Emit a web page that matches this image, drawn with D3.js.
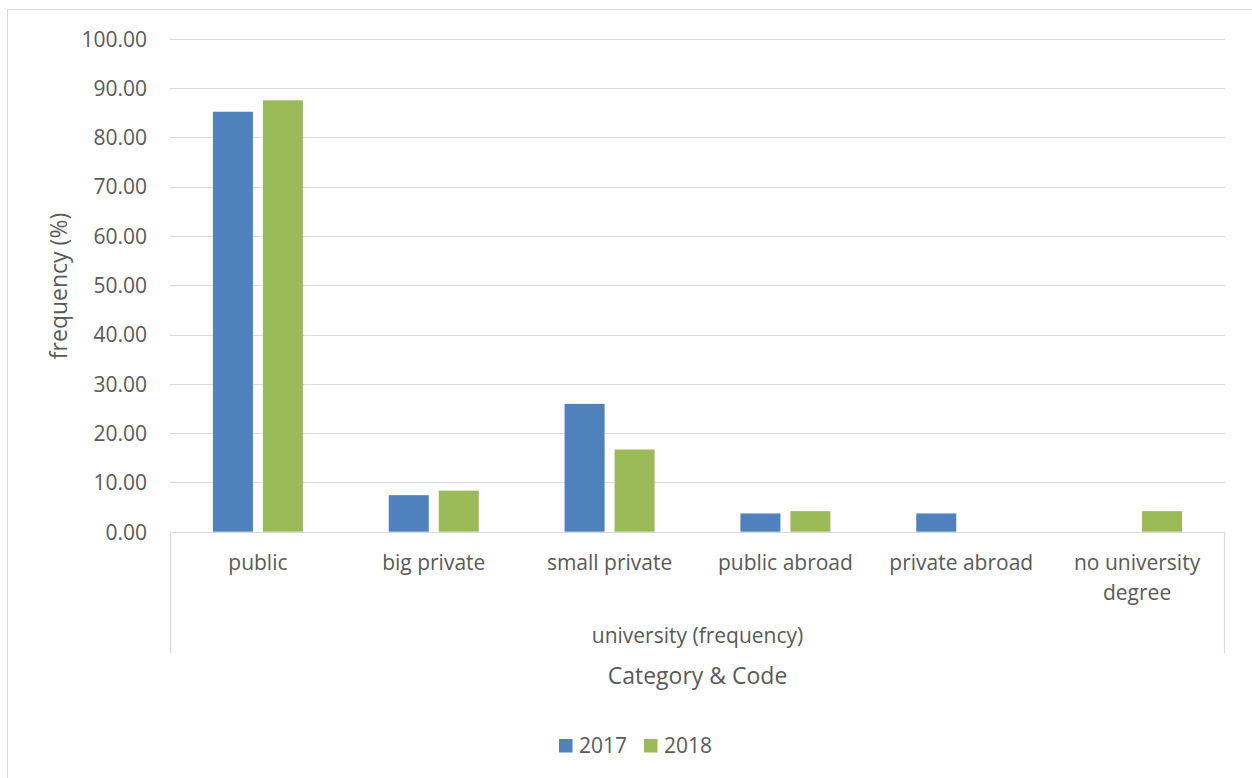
<!DOCTYPE html>
<html>
<head>
<meta charset="utf-8">
<script src="https://cdn.jsdelivr.net/npm/d3@7"></script>
<style>
  html, body { margin: 0; padding: 0; background: #fff; }
  svg { display: block; }
  text { font-family: "Open Sans", "Liberation Sans", sans-serif; fill: #595959; }
</style>
</head>
<body>
<svg id="chart" width="1252" height="778"></svg>
<script>
// University attended, share of respondents (%) per year
const categories = ["public", "big private", "small private", "public abroad", "private abroad", "no university degree"];
const series = ["2017", "2018"];
const values2017 = [85.19, 7.41, 25.93, 3.70, 3.70, 0];
const values2018 = [87.50, 8.33, 16.67, 4.17, 0, 4.17];
const yTicks = [0, 10, 20, 30, 40, 50, 60, 70, 80, 90, 100];
const colors = ["#4f81bd", "#9bbb59"];

const svg = d3.select("#chart");
const W = 1252, H = 778;
const plot = { left: 170, right: 1225, top: 38.7, bottom: 531.7 };

// outer chart border
svg.append("rect")
  .attr("x", 7.5).attr("y", 9.5)
  .attr("width", W).attr("height", H)
  .attr("fill", "none").attr("stroke", "#d9d9d9").attr("stroke-width", 1);

const y = d3.scaleLinear().domain([0, 100]).range([plot.bottom, plot.top]);
const x0 = d3.scaleBand().domain(categories).range([plot.left, plot.right]).paddingInner(0).paddingOuter(0);
const x1 = d3.scaleBand().domain(series).range([0, 90]).paddingInner(0.2);

// gridlines
svg.append("g").selectAll("line").data(yTicks).join("line")
  .attr("x1", plot.left).attr("x2", plot.right)
  .attr("y1", d => Math.round(y(d)) + 0.5).attr("y2", d => Math.round(y(d)) + 0.5)
  .attr("stroke", "#d9d9d9").attr("stroke-width", 1.2);

// y tick labels
const yAxis = d3.axisLeft(y).tickValues(yTicks).tickFormat(d3.format(".2f")).tickSize(0).tickPadding(0);
const gy = svg.append("g").attr("transform", `translate(147,0)`).call(yAxis);
gy.select(".domain").remove();
gy.selectAll("text").style("font-size", "21px").attr("fill", "#595959").attr("dy", "0.35em");

// bars
const data = categories.map((c, i) => ({ cat: c, vals: [values2017[i], values2018[i]] }));
const groups = svg.append("g").selectAll("g").data(data).join("g")
  .attr("transform", d => `translate(${x0(d.cat) + x0.bandwidth() / 2 - 45},0)`);
groups.selectAll("rect").data(d => d.vals.map((v, j) => ({ s: series[j], v, j }))).join("rect")
  .filter(d => d.v > 0)
  .attr("x", d => x1(d.s))
  .attr("width", x1.bandwidth())
  .attr("y", d => y(d.v))
  .attr("height", d => y(0) - y(d.v))
  .attr("fill", d => colors[d.j]);

// category axis box (multi-level)
const axisG = svg.append("g");
axisG.append("line").attr("x1", plot.left + 0.5).attr("x2", plot.left + 0.5)
  .attr("y1", plot.bottom).attr("y2", 653).attr("stroke", "#d9d9d9").attr("stroke-width", 1.2);
axisG.append("line").attr("x1", plot.right - 0.5).attr("x2", plot.right - 0.5)
  .attr("y1", plot.bottom).attr("y2", 653).attr("stroke", "#d9d9d9").attr("stroke-width", 1.2);

// category labels, wrapped where needed
const wrapped = { "no university degree": ["no university", "degree"] };
const catText = axisG.selectAll("text.cat").data(categories).join("text")
  .attr("class", "cat")
  .attr("text-anchor", "middle")
  .attr("x", d => x0(d) + x0.bandwidth() / 2)
  .attr("y", 570)
  .style("font-size", "21px");
catText.each(function (d) {
  const lines = wrapped[d] || [d];
  const t = d3.select(this);
  lines.forEach((ln, k) => {
    t.append("tspan").attr("x", x0(d) + x0.bandwidth() / 2).attr("dy", k === 0 ? 0 : 30).text(ln);
  });
});

// group label
axisG.append("text").attr("x", (plot.left + plot.right) / 2).attr("y", 643)
  .attr("text-anchor", "middle").style("font-size", "21px").text("university (frequency)");

// axis titles
svg.append("text").attr("x", (plot.left + plot.right) / 2).attr("y", 684)
  .attr("text-anchor", "middle").style("font-size", "23px").text("Category & Code");
svg.append("text")
  .attr("transform", `translate(67,286) rotate(-90)`)
  .attr("text-anchor", "middle").style("font-size", "23px").text("frequency (%)");

// legend
const legend = svg.append("g").attr("transform", "translate(559,739)");
const li = legend.selectAll("g").data(series).join("g")
  .attr("transform", (d, i) => `translate(${i * 85},0)`);
li.append("rect").attr("width", 13.5).attr("height", 13.5).attr("fill", (d, i) => colors[i]);
li.append("text").attr("x", 20).attr("y", 13.5).style("font-size", "21px").text(d => d);
</script>
</body>
</html>
